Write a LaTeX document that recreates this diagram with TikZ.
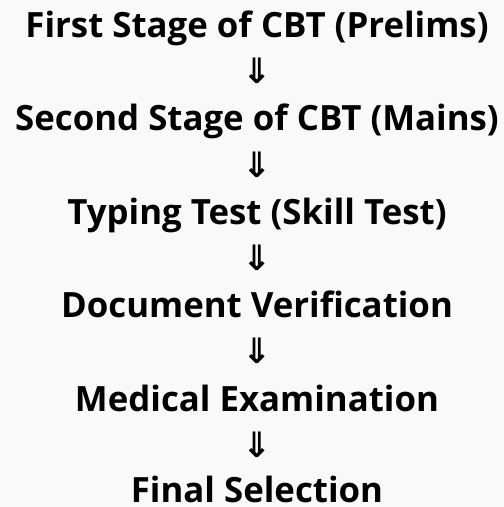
\documentclass[tikz,border=0pt]{standalone}
\usepackage{fontspec}
\setmainfont{Open Sans}
\newfontfamily\arrowfont{DejaVu Sans}
\definecolor{pagegray}{RGB}{249,249,249}
\tikzset{
  stage/.style={
    font=\fontsize{34.8}{40}\selectfont\bfseries,
    inner sep=0pt,
    anchor=base
  },
  down-arrow/.style={
    font=\arrowfont\bfseries\fontsize{35}{40}\selectfont,
    inner sep=0pt,
    anchor=center
  }
}

\begin{document}
\begin{tikzpicture}[x=1pt,y=1pt]
  \fill[pagegray] (0,0) rectangle (504,507);
  \useasboundingbox (0,0) rectangle (504,507);
  % Stages
  \node[stage] (prelims)  at (257,469) {First Stage of CBT (Prelims)};
  \node[stage] (mains)    at (257,376) {Second Stage of CBT (Mains)};
  \node[stage] (typing)   at (257,282) {Typing Test (Skill Test)};
  \node[stage] (docs)     at (257,189) {Document Verification};
  \node[stage] (medical)  at (257,95)  {Medical Examination};
  \node[stage] (final)    at (257,5)   {Final Selection};
  % Arrows
  \node[down-arrow] (a1) at (257,436) {⇓};
  \node[down-arrow] (a2) at (257,342) {⇓};
  \node[down-arrow] (a3) at (257,249) {⇓};
  \node[down-arrow] (a4) at (257,156) {⇓};
  \node[down-arrow] (a5) at (257,62)  {⇓};
\end{tikzpicture}
\end{document}
